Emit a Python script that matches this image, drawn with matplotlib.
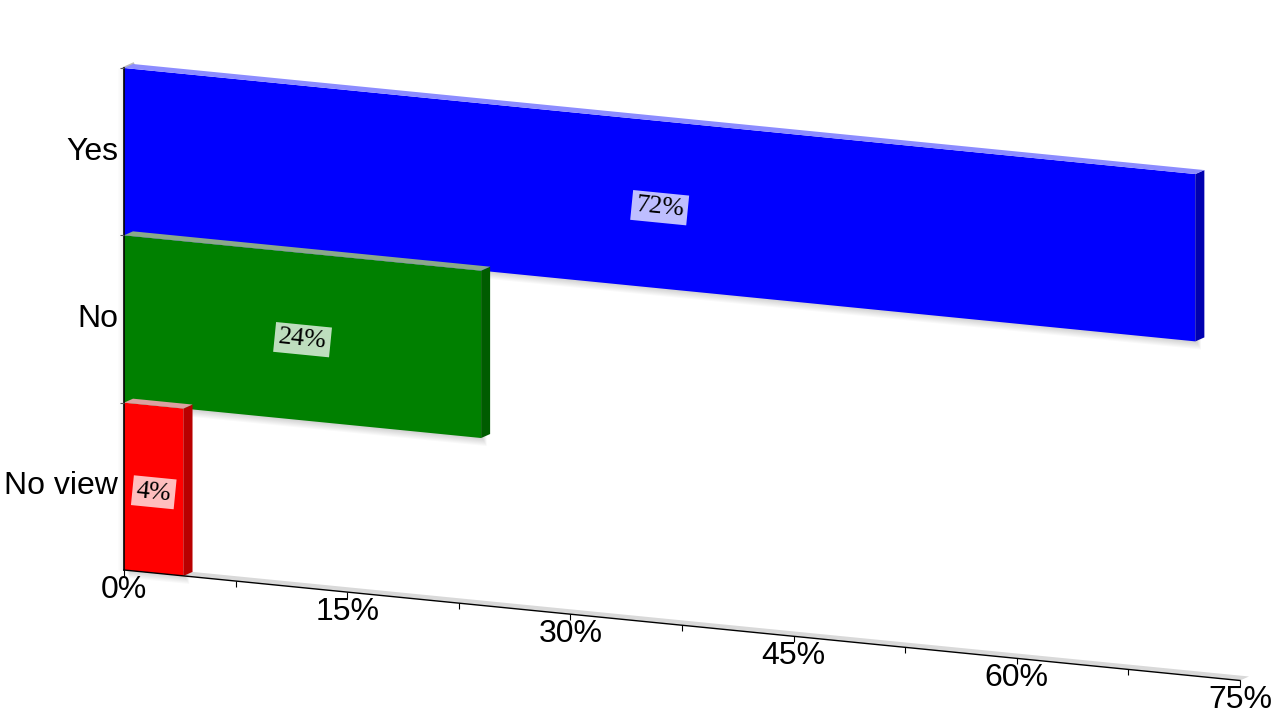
import numpy as np
import matplotlib
matplotlib.use("Agg")
import matplotlib.pyplot as plt
from matplotlib.transforms import Affine2D
from matplotlib.patches import Polygon

# ---- data ----
categories = ["Yes", "No", "No view"]
values = [72, 24, 4]
positions = [2.5, 1.5, 0.5]
front_colors = ["#0000ff", "#008000", "#ff0000"]
side_colors = ["#0000b0", "#005c00", "#b80000"]
top_colors = ["#8c8cff", "#8aa88a", "#dca0a0"]
xticks = [0, 15, 30, 45, 60, 75]
xticklabels = ["0%", "15%", "30%", "45%", "60%", "75%"]
minor_ticks = [0, 7.5, 15, 22.5, 30, 37.5, 45, 52.5, 60, 67.5, 75]

W, H, DPI = 1280, 720, 100
fig = plt.figure(figsize=(W / DPI, H / DPI), dpi=DPI)
X0, Y0, AW, AH = 124, 150, 1116, 502
ax = fig.add_axes([X0 / W, Y0 / H, AW / W, AH / H])
ax.set_xlim(0, 75)
ax.set_ylim(0, 3)
ax.axis("off")

K = 0.099  # perspective slope
shear = Affine2D().translate(-X0, 0).skew(0, np.arctan(-K)).translate(X0, 0)
T = ax.transData + shear

# depth vector (display px) converted to data units
DXp, DYp = 9, 4
p0 = T.transform((0, 0))
dd = T.inverted().transform(p0 + np.array([DXp, DYp]))
dx, dy = dd[0], dd[1]

# floor strip
floor = Polygon([(0, 0), (75, 0), (75 + dx, dy), (dx, dy)], closed=True,
                fc="#d9d9d9", ec="none", transform=T, zorder=1)
ax.add_patch(floor)

# left wall shading
for i in range(1, 7):
    ax.plot([0, 0], [0, 3], color="#000000", alpha=0.05 * (7 - i) / 6, lw=1,
            transform=T + Affine2D().translate(-i, 0), zorder=1,
            solid_capstyle="butt")
ax.plot([0, dx], [3, 3 + dy], color="#bbbbbb", lw=2, transform=T, zorder=1)

# shadows
for v, pos in zip(values, positions):
    y0, y1 = pos - 0.5, pos + 0.5
    for j in range(7):
        sh = Polygon([(0, y0), (v, y0), (v, y1), (0, y1)], closed=True,
                     fc="black", ec="none", alpha=0.025,
                     transform=T + Affine2D().translate(2 + 0.6 * j, -1.5 - 1.1 * j),
                     zorder=1.5)
        ax.add_patch(sh)

# bars
for i, (v, pos) in enumerate(zip(values, positions)):
    z = 2 + i * 0.1
    ax.barh(pos, v, height=1, left=0, color=front_colors[i], edgecolor="none",
            transform=T, zorder=z)
    y0, y1 = pos - 0.5, pos + 0.5
    side = Polygon([(v, y0), (v, y1), (v + dx, y1 + dy), (v + dx, y0 + dy)],
                   closed=True, fc=side_colors[i], ec="none", transform=T, zorder=z + 0.01)
    top = Polygon([(0, y1), (v, y1), (v + dx, y1 + dy), (dx, y1 + dy)],
                  closed=True, fc=top_colors[i], ec="none", transform=T, zorder=z + 0.02)
    ax.add_patch(side)
    ax.add_patch(top)

# axes lines
ax.plot([0, 75], [0, 0], color="black", lw=1, transform=T, zorder=3)
ax.plot([0, 0], [0, 3], color="black", lw=1.2, transform=T, zorder=3)
for t in minor_ticks:
    ax.plot([t], [0], marker=3, markersize=4, color="black", mew=0.8,
            transform=T, zorder=3)
for yb in [1, 2, 3]:
    ax.plot([0], [yb], marker=0, markersize=3, color="#555555", mew=0.8,
            transform=T, zorder=3)

# tick labels
for t, lab in zip(xticks, xticklabels):
    ax.text(t, 0, lab, transform=T + Affine2D().translate(0, -20),
            ha="center", va="center", fontsize=23, family="Liberation Sans",
            color="black", zorder=4)

# category labels
for cat, pos in zip(categories, positions):
    ax.text(0, pos, cat, transform=T + Affine2D().translate(-6, 0),
            ha="right", va="center", fontsize=23, family="Liberation Sans",
            color="black", zorder=4)

# value labels
rot = -np.degrees(np.arctan(K))
for v, pos in zip(values, positions):
    ax.text(v / 2, pos, f"{v}%", transform=T + Affine2D().translate(0, -3),
            ha="center", va="center",
            rotation=rot, rotation_mode="anchor", fontsize=19,
            family="Liberation Serif", color="black", zorder=5,
            bbox=dict(boxstyle="square,pad=0.15", fc="white", ec="none", alpha=0.75))

for art in ax.get_children():
    art.set_clip_on(False)

fig.savefig("out.png", dpi=DPI)
